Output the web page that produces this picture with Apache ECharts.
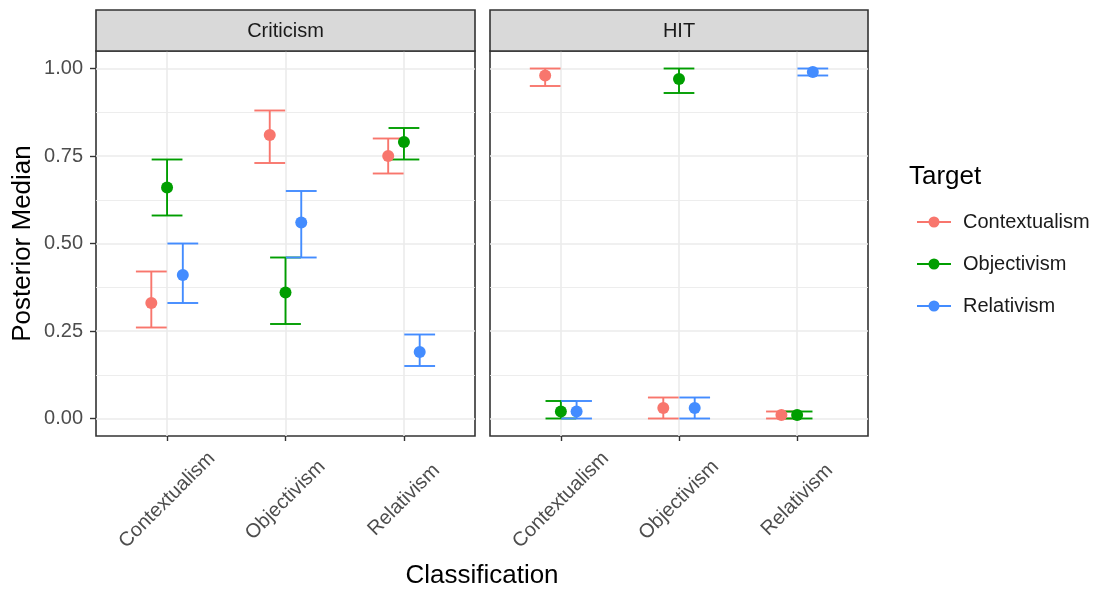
<!DOCTYPE html>
<html><head><meta charset="utf-8">
<script src="https://cdn.jsdelivr.net/npm/echarts@6/dist/echarts.min.js"></script>
<style>html,body{margin:0;padding:0;background:#fff}#c{width:1100px;height:589px}</style>
</head><body><div id="c"></div>
<script>
const panels = ['Criticism', 'HIT'];
const classifications = ['Contextualism', 'Objectivism', 'Relativism'];
const targets = ['Contextualism', 'Objectivism', 'Relativism'];
const yTicks = [0, 0.25, 0.5, 0.75, 1];
const yMinorTicks = [0.125, 0.375, 0.625, 0.875];
// rows = target, columns = classification
const criticismMedian = [[0.33, 0.81, 0.75], [0.66, 0.36, 0.79], [0.41, 0.56, 0.19]];
const criticismLower  = [[0.26, 0.73, 0.70], [0.58, 0.27, 0.74], [0.33, 0.46, 0.15]];
const criticismUpper  = [[0.42, 0.88, 0.80], [0.74, 0.46, 0.83], [0.50, 0.65, 0.24]];
const hitMedian = [[0.98, 0.03, 0.01], [0.02, 0.97, 0.01], [0.02, 0.03, 0.99]];
const hitLower  = [[0.95, 0.00, 0.00], [0.00, 0.93, 0.00], [0.00, 0.00, 0.98]];
const hitUpper  = [[1.00, 0.06, 0.02], [0.05, 1.00, 0.02], [0.05, 0.06, 1.00]];

const colors = ['#F8766D', '#009E00', '#438CFF'];
const FONT = 'Liberation Sans, Arial, sans-serif';
const panelData = [
  {med: criticismMedian, lo: criticismLower, hi: criticismUpper},
  {med: hitMedian, lo: hitLower, hi: hitUpper}
];
const dodges = [-0.133, 0, 0.133];
const capHalf = 0.13;

function errRender(dodge, color) {
  return function (params, api) {
    const x = api.value(0), lo = api.value(2), hi = api.value(3);
    const pLo = api.coord([x, lo]), pHi = api.coord([x, hi]);
    const unit = api.size([1, 0])[0];
    const cx = pLo[0] + dodge * unit, hw = capHalf * unit;
    const style = {stroke: color, lineWidth: 1.9, fill: null};
    return {type: 'group', children: [
      {type: 'line', shape: {x1: cx, y1: pLo[1], x2: cx, y2: pHi[1]}, style},
      {type: 'line', shape: {x1: cx - hw, y1: pLo[1], x2: cx + hw, y2: pLo[1]}, style},
      {type: 'line', shape: {x1: cx - hw, y1: pHi[1], x2: cx + hw, y2: pHi[1]}, style}
    ]};
  };
}
function ptRender(dodge, color) {
  return function (params, api) {
    const x = api.value(0), m = api.value(1);
    const p = api.coord([x, m]);
    const unit = api.size([1, 0])[0];
    return {type: 'circle', shape: {cx: p[0] + dodge * unit, cy: p[1], r: 6}, style: {fill: color}};
  };
}

const grids = [
  {left: 96, top: 51, width: 379, height: 385},
  {left: 490, top: 51, width: 378, height: 385}
].map(g => Object.assign(g, {show: true, borderColor: '#333333', borderWidth: 1.6, backgroundColor: 'transparent', containLabel: false}));

const xAxes = [], yAxes = [], series = [];
panels.forEach((p, gi) => {
  xAxes.push({
    type: 'value', gridIndex: gi, min: 0.4, max: 3.6, position: 'bottom',
    axisLine: {show: false, onZero: false},
    axisTick: {show: true, inside: false, length: 5, customValues: [1, 2, 3], lineStyle: {color: '#333333', width: 1.4}},
    axisLabel: {customValues: [1, 2, 3], rotate: 45, margin: 64, verticalAlign: 'middle', align: 'center',
      color: '#4d4d4d', fontSize: 20, fontFamily: FONT,
      formatter: v => classifications[Math.round(v) - 1]},
    splitLine: {show: true, lineStyle: {color: '#ebebeb', width: 1.6}}
  });
  yAxes.push({
    type: 'value', gridIndex: gi, min: -0.05, max: 1.05, position: 'left',
    axisLine: {show: false, onZero: false},
    axisTick: {show: gi === 0, length: 6, customValues: yTicks, lineStyle: {color: '#333333', width: 1.4}},
    axisLabel: {show: gi === 0, customValues: yTicks, margin: 13, color: '#4d4d4d', fontSize: 20, fontFamily: FONT,
      formatter: v => v.toFixed(2)},
    splitLine: {show: true, lineStyle: {color: '#ebebeb', width: 1.6}}
  });
});
// minor gridlines (ggplot theme_bw)
panels.forEach((p, gi) => {
  yAxes.push({
    type: 'value', gridIndex: gi, min: -0.05, max: 1.05, position: 'left',
    axisLine: {show: false, onZero: false},
    axisTick: {show: false, customValues: yMinorTicks},
    axisLabel: {show: false, customValues: yMinorTicks},
    splitLine: {show: true, lineStyle: {color: '#ebebeb', width: 0.9}}
  });
});

panels.forEach((p, gi) => {
  const d = panelData[gi];
  targets.forEach((t, ti) => {
    const data = classifications.map((c, ci) => [ci + 1, d.med[ti][ci], d.lo[ti][ci], d.hi[ti][ci]]);
    series.push({
      type: 'custom', name: t, xAxisIndex: gi, yAxisIndex: gi, z: 2,
      itemStyle: {color: colors[ti]}, encode: {x: 0, y: [1, 2, 3]},
      renderItem: errRender(dodges[ti], colors[ti]), data, silent: true
    });
  });
  targets.forEach((t, ti) => {
    const data = classifications.map((c, ci) => [ci + 1, d.med[ti][ci], d.lo[ti][ci], d.hi[ti][ci]]);
    series.push({
      type: 'custom', name: t, xAxisIndex: gi, yAxisIndex: gi, z: 3,
      itemStyle: {color: colors[ti]}, encode: {x: 0, y: [1, 2, 3]},
      renderItem: ptRender(dodges[ti], colors[ti]), data, silent: true
    });
  });
});

const legendIcon = 'path://M0,5.1h34v1.8h-34z M17,0.5a5.5,5.5 0 1 1 0,11a5.5,5.5 0 1 1 0,-11z';

const graphics = [];
panels.forEach((p, gi) => {
  const g = grids[gi];
  graphics.push({type: 'rect', z: 10, shape: {x: g.left, y: 10, width: g.width, height: 41},
    style: {fill: '#d9d9d9', stroke: '#333333', lineWidth: 1.6}});
  graphics.push({type: 'text', z: 11, x: g.left + g.width / 2, y: 31,
    style: {text: p, fill: '#1a1a1a', font: '20px ' + FONT, textAlign: 'center', textVerticalAlign: 'middle'}});
});
graphics.push({type: 'text', x: 23, y: 243.5, rotation: Math.PI / 2,
  style: {text: 'Posterior Median', fill: '#000', font: '26px ' + FONT, textAlign: 'center', textVerticalAlign: 'middle'}});
graphics.push({type: 'text', x: 482, y: 576,
  style: {text: 'Classification', fill: '#000', font: '26px ' + FONT, textAlign: 'center', textVerticalAlign: 'middle'}});
graphics.push({type: 'text', x: 909, y: 177,
  style: {text: 'Target', fill: '#000', font: '26px ' + FONT, textAlign: 'left', textVerticalAlign: 'middle'}});

const chart = echarts.init(document.getElementById('c'), null, {renderer: 'canvas'});
chart.setOption({
  animation: false,
  backgroundColor: '#ffffff',
  grid: grids,
  xAxis: xAxes,
  yAxis: yAxes,
  series,
  legend: {
    orient: 'vertical', left: 912, top: 206, itemWidth: 34, itemHeight: 12, itemGap: 20,
    data: targets.map(t => ({name: t, icon: legendIcon})),
    textStyle: {fontSize: 20, fontFamily: FONT, color: '#1a1a1a', lineHeight: 22, padding: [0, 0, 0, 7]},
    selectedMode: false
  },
  graphic: graphics
});
</script></body></html>
